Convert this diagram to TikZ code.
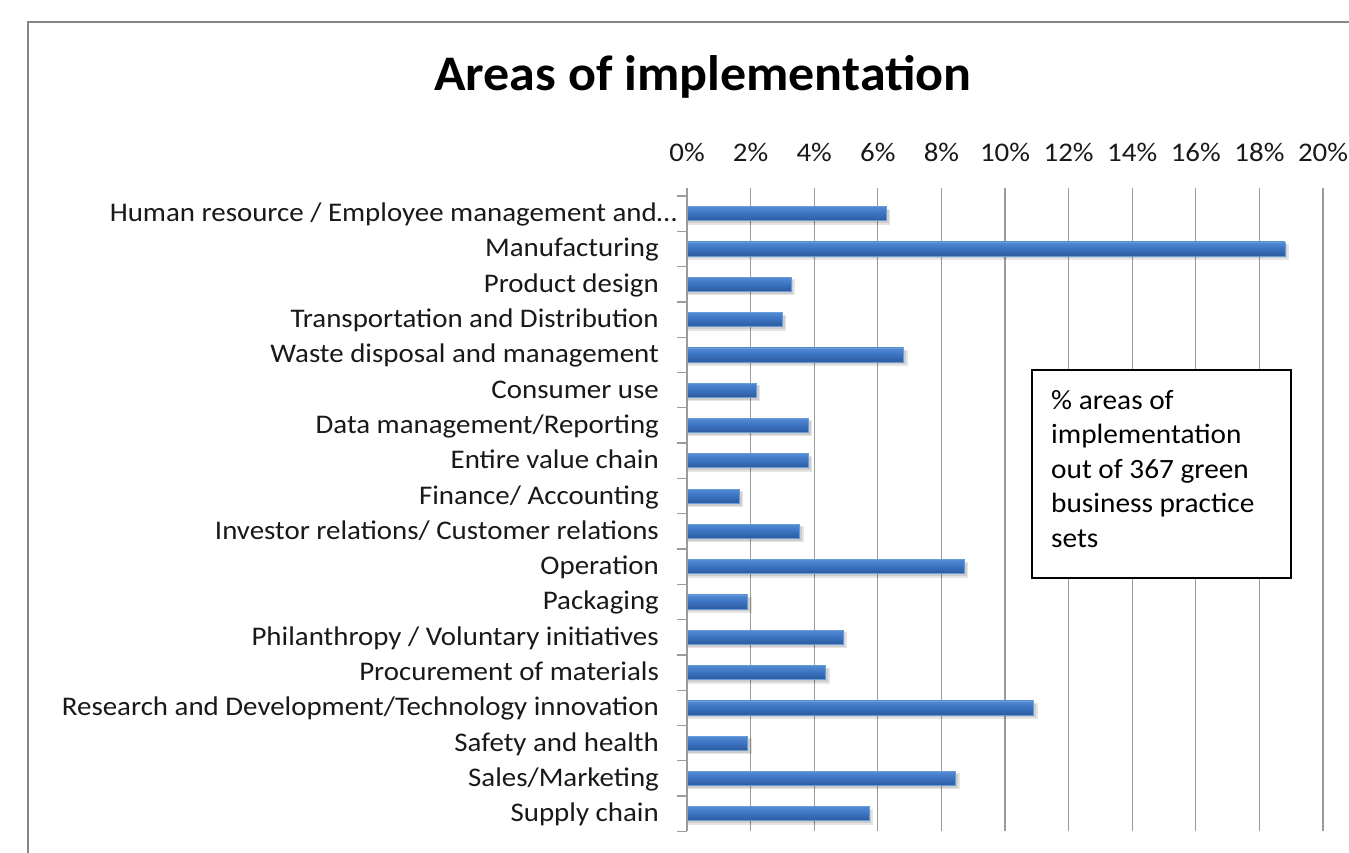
\documentclass[tikz,border=0pt]{standalone}
\usepackage{fontspec}
\setmainfont{Carlito}
\newfontfamily\labfont[FakeStretch=1.075]{Carlito}
\newfontfamily\titlefont[FakeStretch=1.045]{Carlito}
\newfontfamily\notefont[FakeStretch=1.05]{Carlito}
\definecolor{barTop}{RGB}{82,138,212}
\definecolor{barMid}{RGB}{58,114,192}
\definecolor{barBot}{RGB}{44,90,156}
\definecolor{barEdge}{RGB}{106,155,216}
\definecolor{gridc}{RGB}{155,155,155}
\definecolor{framec}{RGB}{134,134,134}
\tikzset{
  catlabel/.style={anchor=base east, inner sep=0pt, font=\labfont\fontsize{27}{32}\selectfont, text=black!90},
  ticklabel/.style={anchor=base, inner sep=0pt, font=\labfont\fontsize{27}{32}\selectfont, text=black!90},
  gridline/.style={draw=gridc, line width=1.3bp},
  barbox/.style={top color=barTop, bottom color=barBot, middle color=barMid, draw=barEdge, line width=0.6bp},
  barshadow/.style={fill=black, opacity=0.10, draw=none}
}
% #1 row, #2 count out of 367, #3 label right edge, #4 label
\newcommand\barrow[4]{%
  \pgfmathsetmacro\yc{213.65+35.3*#1}%
  \pgfmathsetmacro\xe{687+#2*8.6649}%
  \fill[barshadow] (688,\yc-5) rectangle (\xe+4,\yc+11);
  \fill[barshadow] (688,\yc-4) rectangle (\xe+2.5,\yc+9.5);
  \path[barbox] (687,\yc-7) rectangle (\xe,\yc+7);
  \node[catlabel] (lab#1) at (#3,\yc+8) {#4};
}
\begin{document}
\begin{tikzpicture}[x=1bp,y=-1bp]
\useasboundingbox (0,0) rectangle (1349,852);
\fill[white] (0,0) rectangle (1349,852);
\draw[framec, line width=2bp] (28,22) rectangle (1420,920);
\node[anchor=base, inner sep=0pt, font=\titlefont\fontsize{50}{60}\selectfont\bfseries] (title) at (703,90) {Areas of implementation};
% grid
\foreach \k in {1,...,10} {
  \draw[gridline] (687+63.6*\k,188) -- (687+63.6*\k,831.4);
}
\foreach \k [evaluate=\k as \p using int(2*\k)] in {0,...,10} {
  \node[ticklabel] (tick\k) at (687+63.6*\k,161) {\p\%};
}
\foreach \j in {0,...,18} {
  \draw[gridline] (677,196+35.3*\j) -- (687,196+35.3*\j);
}
\barrow{0}{23}{677}{Human resource / Employee management and…}
\barrow{1}{69}{659}{Manufacturing}
\barrow{2}{12}{659}{Product design}
\barrow{3}{11}{659}{Transportation and Distribution}
\barrow{4}{25}{659}{Waste disposal and management}
\barrow{5}{8}{659}{Consumer use}
\barrow{6}{14}{659}{Data management/Reporting}
\barrow{7}{14}{659}{Entire value chain}
\barrow{8}{6}{659}{Finance/ Accounting}
\barrow{9}{13}{659}{Investor relations/ Customer relations}
\barrow{10}{32}{659}{Operation}
\barrow{11}{7}{659}{Packaging}
\barrow{12}{18}{659}{Philanthropy / Voluntary initiatives}
\barrow{13}{16}{659}{Procurement of materials}
\barrow{14}{40}{659}{Research and Development/Technology innovation}
\barrow{15}{7}{659}{Safety and health}
\barrow{16}{31}{659}{Sales/Marketing}
\barrow{17}{21}{659}{Supply chain}
\draw[gridline] (687,188) -- (687,831.4);
% note box
\node[draw=black, line width=2bp, fill=white, minimum width=259bp, minimum height=208bp, inner sep=0pt] (note) at (1161.5,474) {};
\node[anchor=north west, inner sep=0pt, align=left, font=\notefont\fontsize{28}{34.6}\selectfont] (notetext) at (1051,390)
  {\% areas of\\implementation\\out of 367 green\\business practice\\sets};
\end{tikzpicture}
\end{document}
